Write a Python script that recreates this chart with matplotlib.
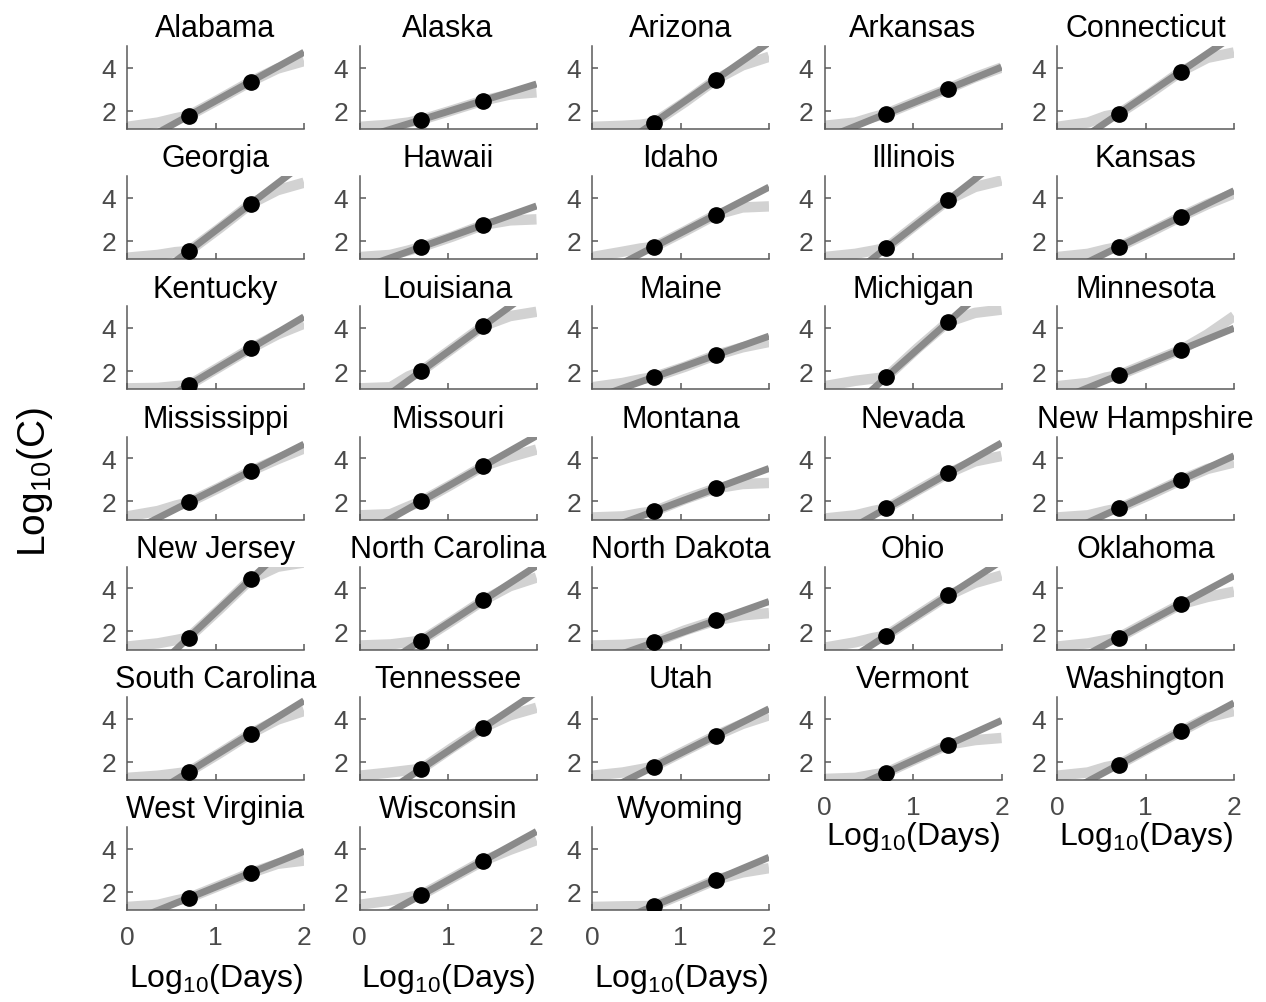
import numpy as np
import matplotlib
matplotlib.use("Agg")
import matplotlib.pyplot as plt

plt.rcParams['font.family'] = ['Liberation Sans', 'DejaVu Sans']
plt.rcParams['mathtext.fontset'] = 'custom'
plt.rcParams['mathtext.rm'] = 'Liberation Sans'
plt.rcParams['mathtext.it'] = 'Liberation Sans:italic'
plt.rcParams['mathtext.bf'] = 'Liberation Sans:bold'

states = [
    "Alabama", "Alaska", "Arizona", "Arkansas", "Connecticut",
    "Georgia", "Hawaii", "Idaho", "Illinois", "Kansas",
    "Kentucky", "Louisiana", "Maine", "Michigan", "Minnesota",
    "Mississippi", "Missouri", "Montana", "Nevada", "New Hampshire",
    "New Jersey", "North Carolina", "North Dakota", "Ohio", "Oklahoma",
    "South Carolina", "Tennessee", "Utah", "Vermont", "Washington",
    "West Virginia", "Wisconsin", "Wyoming",
]

# log10 cumulative cases at day 5 and day 25
log_c_day5 = [
    1.77, 1.58, 1.44, 1.86, 1.86,
    1.53, 1.72, 1.72, 1.67, 1.72,
    1.35, 2.00, 1.72, 1.72, 1.81,
    1.95, 2.00, 1.53, 1.67, 1.67,
    1.72, 1.58, 1.49, 1.81, 1.72,
    1.53, 1.67, 1.77, 1.49, 1.86,
    1.72, 1.86, 1.35,
]
log_c_day25 = [
    3.35, 2.47, 3.44, 3.02, 3.81,
    3.72, 2.74, 3.21, 3.90, 3.12,
    3.05, 4.09, 2.74, 4.28, 2.98,
    3.40, 3.63, 2.60, 3.30, 2.98,
    4.42, 3.44, 2.51, 3.67, 3.26,
    3.30, 3.58, 3.21, 2.79, 3.40,
    2.88, 3.44, 2.56,
]

# observed log10 cumulative cases sampled at these log10(day) values
log_days_obs = [0.0, 0.35, 0.55, 0.699, 1.05, 1.398, 1.7, 2.0]
log_c_obs = [
    [1.25, 1.45, 1.65, 1.77, 2.55, 3.35, 3.95, 4.30],
    [1.25, 1.35, 1.45, 1.58, 2.02, 2.47, 2.75, 2.85],
    [1.25, 1.30, 1.35, 1.44, 2.40, 3.44, 4.10, 4.50],
    [1.30, 1.45, 1.70, 1.86, 2.45, 3.02, 3.55, 4.00],
    [1.25, 1.45, 1.75, 1.86, 2.80, 3.81, 4.45, 4.70],
    [1.22, 1.35, 1.48, 1.53, 2.60, 3.72, 4.35, 4.70],
    [1.25, 1.35, 1.55, 1.72, 2.20, 2.74, 2.95, 3.00],
    [1.25, 1.50, 1.65, 1.72, 2.45, 3.21, 3.55, 3.60],
    [1.25, 1.40, 1.55, 1.67, 2.80, 3.90, 4.50, 4.80],
    [1.25, 1.40, 1.60, 1.72, 2.40, 3.12, 3.70, 4.20],
    [1.20, 1.22, 1.30, 1.35, 2.20, 3.05, 3.70, 4.20],
    [1.20, 1.25, 1.75, 2.00, 3.05, 4.09, 4.55, 4.75],
    [1.25, 1.45, 1.62, 1.72, 2.20, 2.74, 3.10, 3.35],
    [1.30, 1.55, 1.65, 1.72, 3.05, 4.28, 4.70, 4.85],
    [1.30, 1.45, 1.70, 1.81, 2.40, 2.98, 3.70, 4.55],
    [1.30, 1.55, 1.80, 1.95, 2.65, 3.40, 3.95, 4.45],
    [1.35, 1.40, 1.75, 2.00, 2.80, 3.63, 4.05, 4.40],
    [1.25, 1.30, 1.45, 1.53, 2.10, 2.60, 2.80, 2.85],
    [1.20, 1.35, 1.55, 1.67, 2.50, 3.30, 3.85, 4.10],
    [1.25, 1.35, 1.55, 1.67, 2.30, 2.98, 3.50, 3.80],
    [1.30, 1.45, 1.60, 1.72, 3.05, 4.42, 5.00, 5.20],
    [1.35, 1.40, 1.50, 1.58, 2.50, 3.44, 4.10, 4.50],
    [1.35, 1.38, 1.45, 1.49, 2.05, 2.51, 2.75, 2.85],
    [1.25, 1.50, 1.70, 1.81, 2.75, 3.67, 4.25, 4.60],
    [1.30, 1.45, 1.60, 1.72, 2.50, 3.26, 3.60, 3.85],
    [1.25, 1.35, 1.45, 1.53, 2.40, 3.30, 3.95, 4.35],
    [1.35, 1.50, 1.60, 1.67, 2.65, 3.58, 4.15, 4.50],
    [1.35, 1.50, 1.65, 1.77, 2.50, 3.21, 3.75, 4.15],
    [1.20, 1.25, 1.40, 1.49, 2.15, 2.79, 3.00, 3.10],
    [1.35, 1.50, 1.75, 1.86, 2.65, 3.40, 4.05, 4.35],
    [1.30, 1.40, 1.60, 1.72, 2.30, 2.88, 3.30, 3.45],
    [1.40, 1.60, 1.75, 1.86, 2.65, 3.44, 3.95, 4.40],
    [1.30, 1.33, 1.34, 1.35, 1.95, 2.56, 2.90, 3.10],
]

x_ticks = [0, 1, 2]
y_ticks = [2, 4]

LIGHT = "#d2d2d2"
DARK = "#8a8a8a"
AXIS = "#5a5a5a"

W, H = 1266, 1003
fig = plt.figure(figsize=(W / 100, H / 100), dpi=100)

ax_w, ax_h = 177, 83
col_x0, col_dx = 127, 232.5
row_y0, row_dy = 130, 130.2

x_fit = np.array([0.0, 2.0])
d5, d25 = np.log10(5), np.log10(25)

n_cols = 5
for i, name in enumerate(states):
    r, c = divmod(i, n_cols)
    left = (col_x0 + col_dx * c) / W
    bottom = 1 - (row_y0 + row_dy * r) / H
    ax = fig.add_axes([left, bottom, ax_w / W, ax_h / H])

    ax.plot(log_days_obs, log_c_obs[i], color=LIGHT, lw=7.5,
            solid_capstyle="butt", solid_joinstyle="round", zorder=1)
    slope = (log_c_day25[i] - log_c_day5[i]) / (d25 - d5)
    y_fit = log_c_day5[i] + slope * (x_fit - d5)
    ax.plot(x_fit, y_fit, color=DARK, lw=5, solid_capstyle="butt", zorder=2)
    ax.plot([d5, d25], [log_c_day5[i], log_c_day25[i]], "o", color="black",
            ms=11, zorder=3)

    ax.set_xlim(0, 2)
    ax.set_ylim(1.15, 5.0)
    ax.set_xticks(x_ticks)
    ax.set_yticks(y_ticks)
    for side in ("top", "right"):
        ax.spines[side].set_visible(False)
    for side in ("left", "bottom"):
        ax.spines[side].set_color(AXIS)
        ax.spines[side].set_linewidth(1.1)
    ax.tick_params(direction="in", length=4, width=1.1, color=AXIS,
                   labelcolor="#4a4a4a", labelsize=19)
    ax.tick_params(axis="y", pad=8)
    ax.tick_params(axis="x", pad=11)
    ax.set_title(name, fontsize=22, pad=7, color="black")

    bottom_panel = (r == 6) or (r == 5 and c >= 3)
    if bottom_panel:
        ax.set_xlabel(r"Log$_{\mathregular{10}}$(Days)", fontsize=23,
                      labelpad=8 if r == 6 else 0)
    else:
        ax.set_xticklabels([])

fig.text(35 / W, 1 - 482 / H, r"Log$_{\mathregular{10}}$(C)", rotation=90,
         fontsize=28, ha="center", va="center")

fig.savefig("out.png", dpi=100)
